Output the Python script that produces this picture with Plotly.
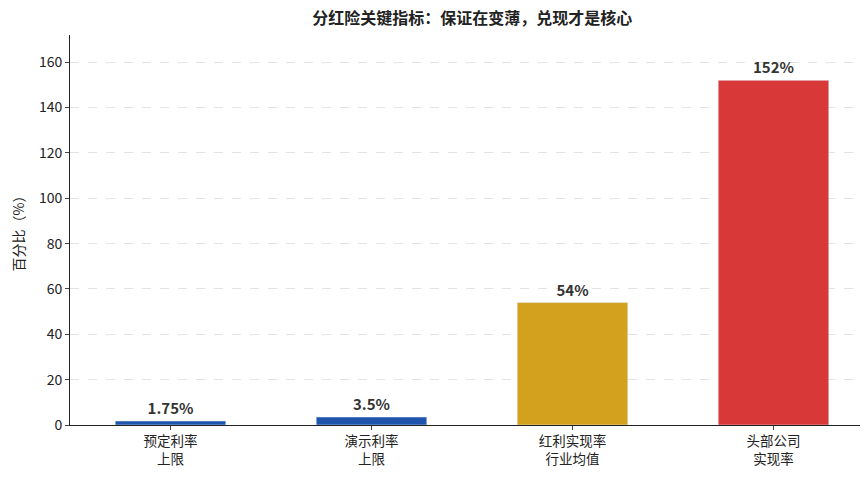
import plotly.graph_objects as go

categories = ["预定利率<br>上限", "演示利率<br>上限", "红利实现率<br>行业均值", "头部公司<br>实现率"]
values = [1.75, 3.5, 54, 152]
labels = ["1.75%", "3.5%", "54%", "152%"]
colors = ["#1f55ad", "#1f55ad", "#d4a11e", "#d83838"]

fig = go.Figure(go.Bar(
    x=categories, y=values, marker_color=colors, width=0.55,
    text=labels, textposition="outside", cliponaxis=False,
    textfont=dict(size=15, color="#333333", family="Noto Sans CJK SC"),
    texttemplate="<b>%{text}</b>",
))
fig.update_layout(
    width=868, height=483,
    margin=dict(l=62, r=2, t=27, b=66),
    plot_bgcolor="white", paper_bgcolor="white",
    font=dict(family="Noto Sans CJK SC", size=13, color="#222222"),
    title=dict(text="<b>分红险关键指标：保证在变薄，兑现才是核心</b>", x=0.535, xanchor="center",
               y=0.99, yanchor="top", font=dict(size=16, color="#222222")),
    showlegend=False,
)
fig.update_yaxes(range=[0, 172], dtick=20, showgrid=True, gridcolor="#e3e3e3", griddash="dash",
                 showline=True, linecolor="#222222", ticks="outside", ticklen=4,
                 title=dict(text="百分比（%）", font=dict(size=14)), zeroline=False,
                 tickfont=dict(size=14))
fig.update_xaxes(showline=True, linecolor="#222222", ticks="outside", ticklen=4, showgrid=False,
                 tickfont=dict(size=13.5))
fig.write_html("out.html")
